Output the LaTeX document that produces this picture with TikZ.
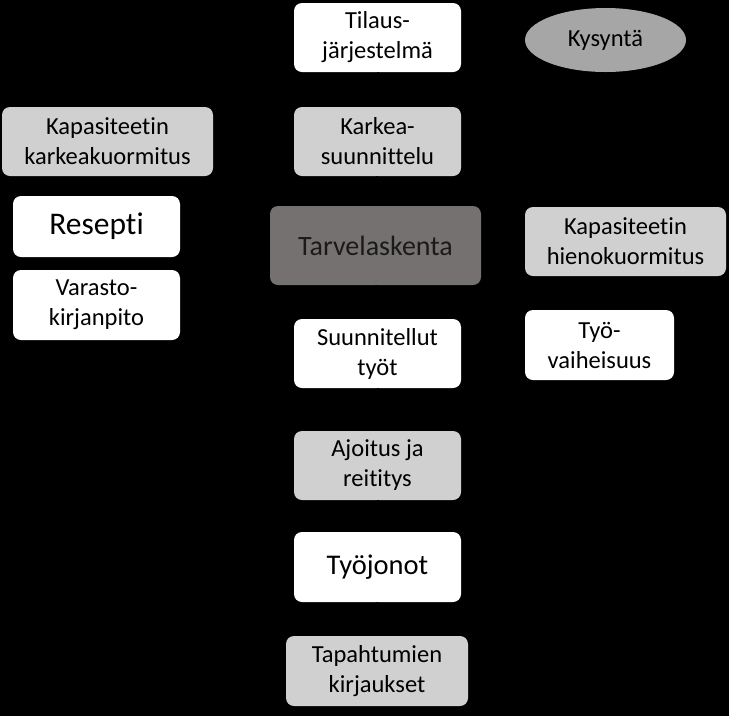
\documentclass[tikz,border=0pt]{standalone}
\usepackage{fontspec}
\setmainfont{Carlito}[Ligatures={NoCommon}]
\usetikzlibrary{shapes.geometric,arrows.meta}
\definecolor{lgray}{HTML}{D0D0D0}
\definecolor{egray}{HTML}{A6A6A6}
\definecolor{dgray}{HTML}{767171}
\definecolor{tgray}{HTML}{1A1A1A}
\tikzset{
  box/.style={rounded corners=8pt, inner sep=0pt, align=center, font=\fontsize{24.5}{30}\selectfont, text=black},
  wbox/.style={box, fill=white},
  gbox/.style={box, fill=lgray},
  conn/.style={draw=black, line width=2pt, -{Latex[length=8pt,width=8pt]}}
}
\newcommand{\bx}[7]{% name, style, x1, y1, x2, y2, text
  \node[#2, minimum width=#5pt-#3pt, minimum height=#6pt-#4pt] (#1) at ({(#3+#5)/2*1pt}, {-(#4+#6)/2*1pt}) {#7};}
\begin{document}
\begin{tikzpicture}
\fill[black] (0,0) rectangle (729pt,-716pt);
\useasboundingbox (0,0) rectangle (729pt,-716pt);
\bx{tilaus}{wbox}{294}{3}{461}{72}{Tilaus-\\järjestelmä}
\node[ellipse, fill=egray, minimum width=161pt, minimum height=64pt, inner sep=0pt, font=\fontsize{24.5}{30}\selectfont] (kysynta) at (605.5pt,-40pt) {Kysyntä};
\bx{karkea}{gbox}{294}{107}{461}{176}{Karkea-\\suunnittelu}
\bx{kapk}{gbox}{2}{107}{213}{176}{Kapasiteetin\\karkeakuormitus}
\bx{resepti}{wbox, font=\fontsize{31.5}{36}\selectfont}{13}{196}{180}{257}{Resepti}
\bx{varasto}{wbox}{13}{270}{180}{340}{Varasto-\\kirjanpito}
\bx{tarve}{box, fill=dgray, text=tgray, font=\fontsize{28}{32}\selectfont}{270}{206}{481}{285}{Tarvelaskenta}
\bx{kaph}{gbox}{525}{207}{726}{276}{Kapasiteetin\\hienokuormitus}
\bx{tyov}{wbox}{525}{310}{674}{380}{Työ-\\vaiheisuus}
\bx{suun}{wbox}{294}{319}{461}{388}{Suunnitellut\\työt}
\bx{ajoitus}{gbox}{294}{431}{461}{500}{Ajoitus ja\\reititys}
\bx{tyoj}{wbox, font=\fontsize{28.5}{33}\selectfont}{294}{532}{461}{602}{Työjonot}
\bx{tapaht}{gbox}{286}{636}{468}{706}{Tapahtumien\\kirjaukset}
\draw[conn] (tilaus) -- (karkea);
\draw[conn] (karkea) -- (tarve);
\draw[conn] (tarve) -- (suun);
\draw[conn] (suun) -- (ajoitus);
\draw[conn] (ajoitus) -- (tyoj);
\draw[conn] (tyoj) -- (tapaht);
\end{tikzpicture}
\end{document}
